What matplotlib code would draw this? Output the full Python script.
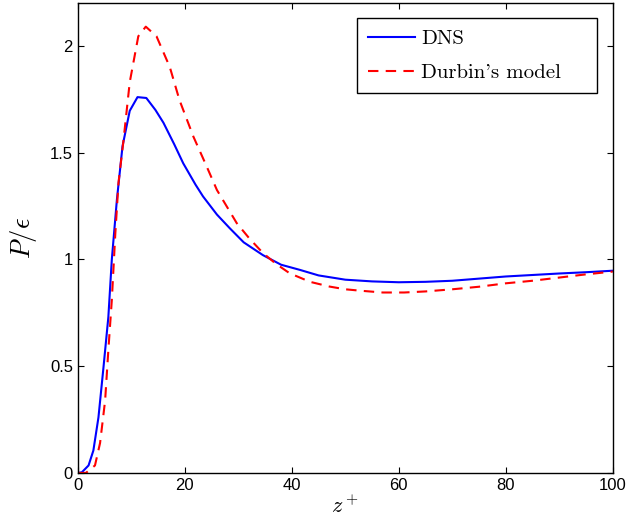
import matplotlib
matplotlib.use("Agg")
import matplotlib.pyplot as plt

plt.rcParams["mathtext.fontset"] = "cm"
plt.rcParams["font.family"] = ["Liberation Sans", "DejaVu Sans"]

# Production-to-dissipation ratio vs wall distance
z_dns = [0, 0.75, 2.0, 2.9, 3.85, 4.8, 5.7, 6.35, 7.3, 8.35, 9.7, 11.15, 12.8,
         14.5, 16.0, 18.0, 19.7, 22.0, 23.4, 26.0, 28.4, 31.0, 34.6, 38.0,
         41.5, 45, 50, 55, 60, 65, 70, 75, 80, 85, 90, 95, 100]
p_dns = [0, 0.003, 0.035, 0.105, 0.26, 0.497, 0.73, 1.0, 1.28, 1.53, 1.696,
         1.76, 1.756, 1.70, 1.64, 1.54, 1.45, 1.35, 1.295, 1.21, 1.146, 1.08,
         1.02, 0.975, 0.951, 0.925, 0.905, 0.897, 0.893, 0.895, 0.90, 0.91,
         0.92, 0.927, 0.934, 0.94, 0.947]

z_durbin = [0, 1.5, 3.2, 4.15, 5.1, 5.7, 6.35, 7.0, 7.6, 8.5, 9.7, 11.3, 12.7,
            14.7, 17.2, 19.0, 21.6, 24.0, 26.0, 29.7, 32.0, 34.6, 37.0, 39.6,
            43.4, 47, 50, 53, 57, 61, 65, 70, 75, 80, 85, 90, 95, 100]
p_durbin = [0, 0.0, 0.035, 0.14, 0.34, 0.575, 0.81, 1.12, 1.36, 1.55, 1.83,
            2.045, 2.09, 2.045, 1.90, 1.746, 1.575, 1.44, 1.325, 1.17, 1.10,
            1.03, 0.98, 0.935, 0.895, 0.873, 0.86, 0.853, 0.845, 0.845, 0.85,
            0.86, 0.872, 0.888, 0.90, 0.915, 0.93, 0.943]

fig = plt.figure(figsize=(6.33, 5.29), dpi=100)
ax = fig.add_axes([0.123, 0.106, 0.845, 0.888])

ax.plot(z_dns, p_dns, color="#0000ff", lw=1.5, label="DNS")
ax.plot(z_durbin, p_durbin, color="#ff0000", lw=1.5, ls=(0, (5, 3.5)),
        label="Durbin's model")

ax.set_xlim(0, 100)
ax.set_ylim(0, 2.2)
ax.set_xticks([0, 20, 40, 60, 80, 100])
ax.set_yticks([0, 0.5, 1, 1.5, 2])
ax.set_yticklabels(["0", "0.5", "1", "1.5", "2"])
ax.tick_params(direction="in", top=True, right=True, labelsize=12,
               length=4, width=0.8)
for s in ax.spines.values():
    s.set_linewidth(1.0)

ax.set_xlabel(r"$z^+$", fontsize=16, labelpad=2)
ax.set_ylabel(r"$P/\epsilon$", fontsize=19, labelpad=8)

leg = ax.legend(loc="upper left", bbox_to_anchor=(0.5215, 0.968, 0.4485, 0.0),
                mode="expand", borderaxespad=0.0,
                prop={"family": ["cmr10", "DejaVu Sans"], "size": 15},
                fancybox=False, edgecolor="black", framealpha=1,
                handlelength=2.25, handletextpad=0.3,
                labelspacing=0.72, borderpad=0.55)
leg.get_frame().set_linewidth(1.0)

fig.savefig("out.png", dpi=100)
